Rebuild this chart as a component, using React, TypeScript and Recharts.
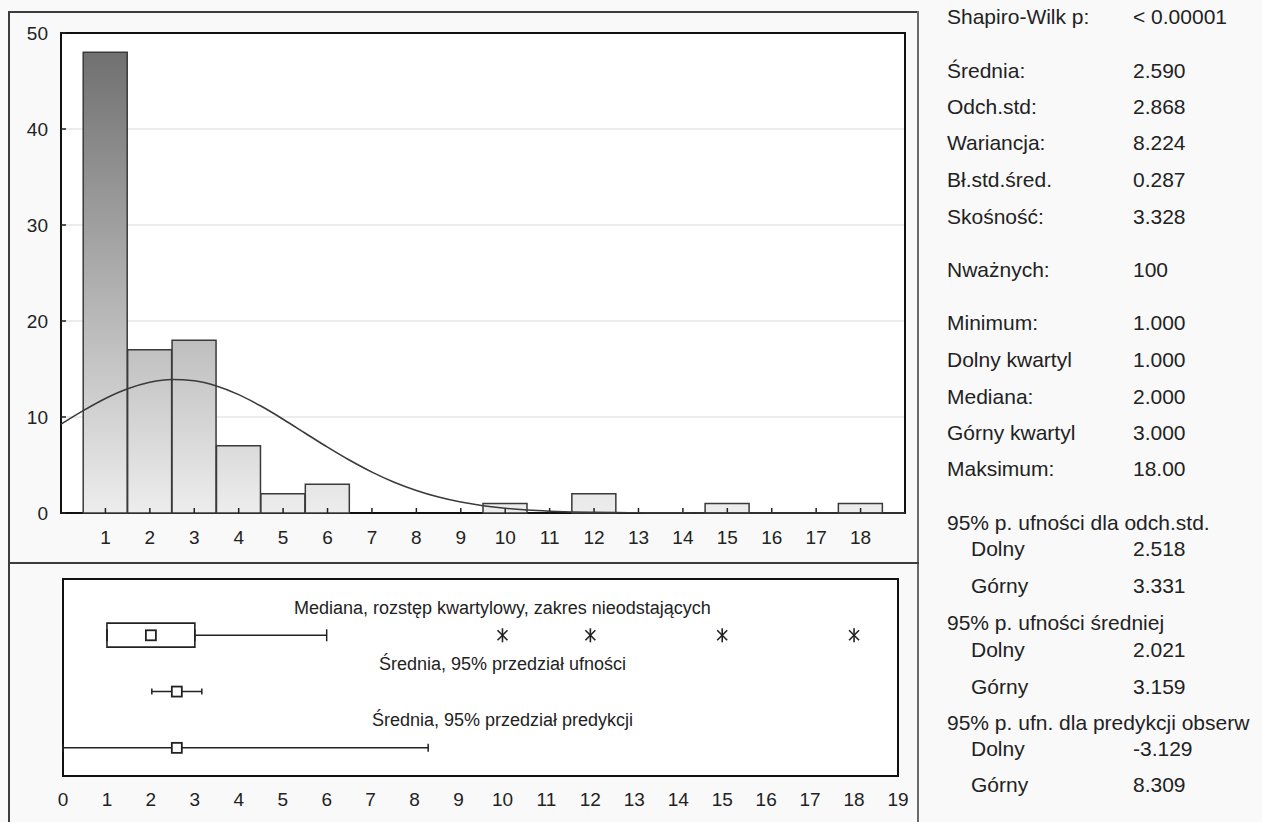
import React from 'react';
import {
  ComposedChart,
  LineChart,
  Bar,
  Line,
  Scatter,
  ErrorBar,
  XAxis,
  YAxis,
  CartesianGrid,
  ReferenceArea,
  ReferenceDot,
} from 'recharts';

// ---------- data: histogram ----------
const binCenters = [1, 2, 3, 4, 5, 6, 7, 8, 9, 10, 11, 12, 13, 14, 15, 16, 17, 18];
const binCounts = [48, 17, 18, 7, 2, 3, 0, 0, 0, 1, 0, 2, 0, 0, 1, 0, 0, 1];
const countTicks = [0, 10, 20, 30, 40, 50];

// fitted normal curve at half-unit steps
const curveX = [
  0, 0.5, 1, 1.5, 2, 2.5, 3, 3.5, 4, 4.5, 5, 5.5, 6, 6.5, 7, 7.5, 8, 8.5, 9, 9.5,
  10, 10.5, 11, 11.5, 12, 12.5, 13, 13.5, 14, 14.5, 15, 15.5, 16, 16.5, 17, 17.5, 18, 18.5, 19,
];
const curveY = [
  9.25, 10.66, 11.93, 12.94, 13.62, 13.9, 13.77, 13.23, 12.33, 11.14, 9.77, 8.31, 6.86, 5.49,
  4.26, 3.21, 2.35, 1.66, 1.14, 0.76, 0.49, 0.31, 0.19, 0.11, 0.06, 0.04, 0.02, 0.01, 0.01,
  0, 0, 0, 0, 0, 0, 0, 0, 0, 0,
];

// ---------- data: box plot ----------
const boxQuartiles = [1, 2, 3]; // Q1, median, Q3
const boxWhiskers = [1, 6]; // non-outlier range
const outlierValues = [10, 12, 15, 18];
const meanValue = 2.59;
const meanConfidence = [2.021, 3.159];
const meanPrediction = [-3.129, 8.309];
const boxRowLabels = [
  'Mediana, rozstęp kwartylowy, zakres nieodstających',
  'Średnia, 95% przedział ufności',
  'Średnia, 95% przedział predykcji',
];
const boxAxisTicks = [0, 1, 2, 3, 4, 5, 6, 7, 8, 9, 10, 11, 12, 13, 14, 15, 16, 17, 18, 19];

// ---------- data: statistics panel ----------
const statLabels = [
  'Shapiro-Wilk p:', 'Średnia:', 'Odch.std:', 'Wariancja:', 'Bł.std.śred.', 'Skośność:',
  'Nważnych:', 'Minimum:', 'Dolny kwartyl', 'Mediana:', 'Górny kwartyl', 'Maksimum:',
  '95% p. ufności dla odch.std.', 'Dolny', 'Górny',
  '95% p. ufności średniej', 'Dolny', 'Górny',
  '95% p. ufn. dla predykcji obserw', 'Dolny', 'Górny',
];
const statValues = [
  '< 0.00001', '2.590', '2.868', '8.224', '0.287', '3.328',
  '100', '1.000', '1.000', '2.000', '3.000', '18.00',
  '', '2.518', '3.331',
  '', '2.021', '3.159',
  '', '-3.129', '8.309',
];

// ---------- layout / style ----------
const statRowY = [17, 71, 107, 143, 180, 217, 270, 323, 360, 397, 433, 469, 523, 549, 586, 623, 650, 687, 723, 749, 785];
const statIndented = [false, false, false, false, false, false, false, false, false, false, false, false, false, true, true, false, true, true, false, true, true];

const FONT = '"Liberation Sans", Arial, Helvetica, sans-serif';
const INK = '#222';
const FRAME = '#3c3c3c';
const PAGE_BG = '#f9f9f9';

const HIST_W = 918;
const HIST_H = 563;
const HIST_TOP = 33;
const HIST_RIGHT = 13;
const HIST_YAXIS_W = 61;
const HIST_XAXIS_H = 50;
const HIST_PLOT_W = HIST_W - HIST_YAXIS_W - HIST_RIGHT;
const HIST_BAR_PX = Math.floor(HIST_PLOT_W / 19);

const BOX_TOP_PAGE = 563;
const BOX_W = 918;
const BOX_H = 259;
const BOX_DOMAIN = [0, 19];

const histData = binCenters.map((x, i) => ({ x, count: binCounts[i] }));
const curveData = curveX.map((x, i) => ({ x, y: curveY[i] }));

const boxBarData = [{ row: 1, box: [boxQuartiles[0], boxQuartiles[2]] }];
const hingeData = [
  { x: boxQuartiles[0], row: 1, err: [boxQuartiles[0] - boxWhiskers[0], 0] },
  { x: boxQuartiles[2], row: 1, err: [0, boxWhiskers[1] - boxQuartiles[2]] },
];
const medianData = [{ x: boxQuartiles[1], row: 1 }];
const outlierData = outlierValues.map((x) => ({ x, row: 1 }));
const ciData = [{ x: meanValue, row: 2, err: [meanValue - meanConfidence[0], meanConfidence[1] - meanValue] }];
// the visible part of the prediction interval stops at the axis start
const piData = [
  {
    x: meanValue,
    row: 3,
    err: [meanValue - Math.max(BOX_DOMAIN[0], meanPrediction[0]), Math.min(BOX_DOMAIN[1], meanPrediction[1]) - meanValue],
  },
];

// ---------- tick renderers ----------
function HistBottomTick(props: any) {
  const { x, y, payload } = props;
  return (
    <g>
      <line x1={x} y1={y} x2={x} y2={y - 5} stroke={INK} strokeWidth={1.5} />
      <text x={x} y={y + 24} textAnchor="middle" dominantBaseline="central" fontFamily={FONT} fontSize={19} fill={INK}>
        {payload.value}
      </text>
    </g>
  );
}
function HistTopTick(props: any) {
  const { x, y } = props;
  return <line x1={x} y1={y} x2={x} y2={y + 5} stroke={INK} strokeWidth={1.5} />;
}
function HistLeftTick(props: any) {
  const { x, y, payload } = props;
  return (
    <g>
      <line x1={x} y1={y} x2={x + 5} y2={y} stroke={INK} strokeWidth={1.5} />
      <text x={x - 13} y={y} textAnchor="end" dominantBaseline="central" fontFamily={FONT} fontSize={19} fill={INK}>
        {payload.value}
      </text>
    </g>
  );
}
function HistRightTick(props: any) {
  const { x, y } = props;
  return <line x1={x} y1={y} x2={x - 5} y2={y} stroke={INK} strokeWidth={1.5} />;
}
function BoxBottomTick(props: any) {
  const { x, y, payload } = props;
  return (
    <text x={x} y={y + 23} textAnchor="middle" dominantBaseline="central" fontFamily={FONT} fontSize={19} fill={INK}>
      {payload.value}
    </text>
  );
}

// ---------- scatter shapes ----------
const squareMarker = (p: any) => (
  <rect x={p.cx - 5} y={p.cy - 5} width={10} height={10} fill="#fff" stroke={INK} strokeWidth={1.8} />
);
const hiddenPoint = () => <g />;
const asteriskMarker = (p: any) => {
  const { cx, cy } = p;
  return (
    <g stroke={INK} strokeWidth={1.6}>
      <line x1={cx} y1={cy - 7} x2={cx} y2={cy + 7} />
      <line x1={cx - 5} y1={cy - 5} x2={cx + 5} y2={cy + 5} />
      <line x1={cx - 5} y1={cy + 5} x2={cx + 5} y2={cy - 5} />
    </g>
  );
};

function Histogram() {
  return (
    <ComposedChart
      width={HIST_W}
      height={HIST_H}
      data={histData}
      margin={{ top: HIST_TOP, right: HIST_RIGHT, bottom: 0, left: 0 }}
    >
      <defs>
        <linearGradient id="histGrad" gradientUnits="userSpaceOnUse" x1="0" y1={HIST_TOP} x2="0" y2={HIST_H - HIST_XAXIS_H}>
          <stop offset="0" stopColor="#6b6b6b" />
          <stop offset="1" stopColor="#ededed" />
        </linearGradient>
      </defs>
      <CartesianGrid vertical={false} stroke="#d9d9d9" fill="#ffffff" />
      <XAxis
        type="number"
        dataKey="x"
        domain={[0, 19]}
        ticks={binCenters}
        interval={0}
        height={HIST_XAXIS_H}
        axisLine={false}
        tickLine={false}
        tickSize={0}
        tickMargin={0}
        tick={<HistBottomTick />}
      />
      <XAxis
        xAxisId="top"
        orientation="top"
        type="number"
        dataKey="x"
        domain={[0, 19]}
        ticks={binCenters}
        interval={0}
        height={0}
        axisLine={false}
        tickLine={false}
        tickSize={0}
        tickMargin={0}
        tick={<HistTopTick />}
      />
      <YAxis
        type="number"
        domain={[0, 50]}
        ticks={countTicks}
        interval={0}
        width={HIST_YAXIS_W}
        axisLine={false}
        tickLine={false}
        tickSize={0}
        tickMargin={0}
        tick={<HistLeftTick />}
      />
      <YAxis
        yAxisId="right"
        orientation="right"
        type="number"
        domain={[0, 50]}
        ticks={countTicks}
        interval={0}
        width={0}
        axisLine={false}
        tickLine={false}
        tickSize={0}
        tickMargin={0}
        tick={<HistRightTick />}
      />
      <Bar
        dataKey="count"
        fill="url(#histGrad)"
        stroke="#3a3a3a"
        strokeWidth={1.5}
        barSize={HIST_BAR_PX}
        isAnimationActive={false}
      />
      <ReferenceArea x1={0} x2={19} y1={0} y2={50} fill="none" stroke="#111" strokeWidth={2} ifOverflow="visible" />
    </ComposedChart>
  );
}

function CurveOverlay() {
  return (
    <LineChart
      width={HIST_W}
      height={HIST_H}
      data={curveData}
      margin={{ top: HIST_TOP, right: HIST_RIGHT, bottom: HIST_XAXIS_H, left: HIST_YAXIS_W }}
    >
      <XAxis type="number" dataKey="x" domain={[0, 19]} hide />
      <YAxis type="number" domain={[0, 50]} hide />
      <Line
        dataKey="y"
        type="monotone"
        stroke="#3a3a3a"
        strokeWidth={1.6}
        dot={false}
        activeDot={false}
        isAnimationActive={false}
      />
    </LineChart>
  );
}

function BoxPlot() {
  return (
    <ComposedChart
      layout="vertical"
      width={BOX_W}
      height={BOX_H}
      data={boxBarData}
      margin={{ top: 16, right: 20, bottom: 0, left: 63 }}
    >
      <CartesianGrid horizontal={false} vertical={false} fill="#ffffff" />
      <XAxis
        type="number"
        dataKey="x"
        domain={BOX_DOMAIN}
        allowDataOverflow
        ticks={boxAxisTicks}
        interval={0}
        height={46}
        axisLine={false}
        tickLine={false}
        tickSize={0}
        tickMargin={0}
        tick={<BoxBottomTick />}
      />
      <YAxis
        type="number"
        dataKey="row"
        domain={[0, 3.5]}
        allowDataOverflow
        ticks={[0, 1, 2, 3]}
        width={0}
        axisLine={false}
        tickLine={false}
        tick={false}
      />
      <Scatter data={hingeData} shape={hiddenPoint} isAnimationActive={false}>
        <ErrorBar dataKey="err" direction="x" width={6} stroke={INK} strokeWidth={1.5} />
      </Scatter>
      <Bar dataKey="box" fill="#ffffff" stroke={INK} strokeWidth={1.6} barSize={24} isAnimationActive={false} />
      <Scatter data={medianData} shape={squareMarker} isAnimationActive={false} />
      <Scatter data={outlierData} shape={asteriskMarker} isAnimationActive={false} />
      <Scatter data={ciData} shape={squareMarker} isAnimationActive={false}>
        <ErrorBar dataKey="err" direction="x" width={3} stroke={INK} strokeWidth={1.5} />
      </Scatter>
      <Scatter data={piData} shape={squareMarker} isAnimationActive={false}>
        <ErrorBar dataKey="err" direction="x" width={4} stroke={INK} strokeWidth={1.5} />
      </Scatter>
      {boxRowLabels.map((text, i) => (
        <ReferenceDot
          key={text}
          x={10}
          y={i + 0.5}
          r={0}
          fill="none"
          stroke="none"
          label={{ value: text, position: 'center', fill: INK, fontSize: 18, fontFamily: FONT }}
        />
      ))}
      <ReferenceArea x1={0} x2={19} y1={0} y2={3.5} fill="none" stroke="#111" strokeWidth={2} ifOverflow="visible" />
    </ComposedChart>
  );
}

export default function App() {
  return (
    <div
      style={{
        position: 'absolute',
        left: 0,
        top: 0,
        width: 1262,
        height: 822,
        overflow: 'hidden',
        background: PAGE_BG,
        fontFamily: FONT,
        color: INK,
      }}
    >
      <div style={{ position: 'absolute', left: 0, top: 0 }}>
        <Histogram />
      </div>
      <div style={{ position: 'absolute', left: 0, top: 0 }}>
        <CurveOverlay />
      </div>
      <div style={{ position: 'absolute', left: 0, top: BOX_TOP_PAGE }}>
        <BoxPlot />
      </div>

      {/* outer frames */}
      <div style={{ position: 'absolute', left: 8, top: 11, width: 911, height: 2, background: FRAME }} />
      <div style={{ position: 'absolute', left: 8, top: 11, width: 2, height: 811, background: FRAME }} />
      <div style={{ position: 'absolute', left: 917, top: 11, width: 2, height: 811, background: '#6a6a6a' }} />
      <div style={{ position: 'absolute', left: 8, top: 562, width: 911, height: 2, background: FRAME }} />

      {/* statistics panel */}
      {statLabels.map((label, i) => (
        <React.Fragment key={i}>
          <div
            style={{
              position: 'absolute',
              left: statIndented[i] ? 971 : 947,
              top: statRowY[i] - 13,
              height: 26,
              lineHeight: '26px',
              fontSize: 21,
              whiteSpace: 'nowrap',
            }}
          >
            {label}
          </div>
          {statValues[i] !== '' && (
            <div
              style={{
                position: 'absolute',
                left: 1133,
                top: statRowY[i] - 13,
                height: 26,
                lineHeight: '26px',
                fontSize: 21,
                whiteSpace: 'nowrap',
              }}
            >
              {statValues[i]}
            </div>
          )}
        </React.Fragment>
      ))}
    </div>
  );
}
